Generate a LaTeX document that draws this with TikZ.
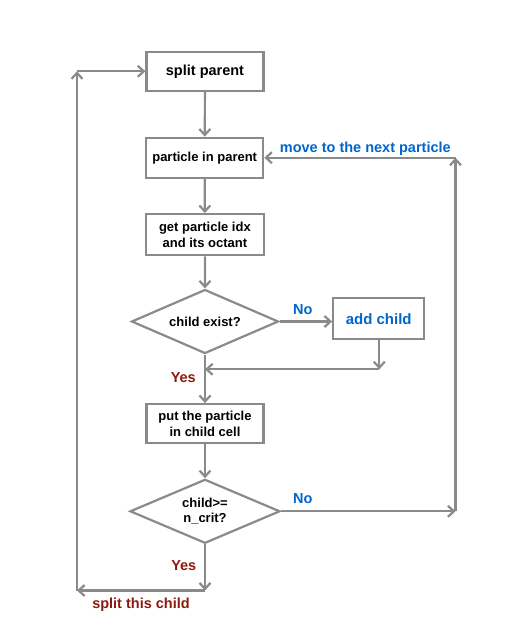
\documentclass[tikz,border=0pt]{standalone}
\usepackage{fontspec}
\setmainfont{Liberation Sans}
\usetikzlibrary{shapes.geometric,arrows.meta}
\definecolor{lngray}{RGB}{137,138,141}
\definecolor{lblue}{RGB}{0,102,204}
\definecolor{lred}{RGB}{139,26,16}
\begin{document}
\begin{tikzpicture}[x=1pt,y=-1pt,
  every node/.style={font=\bfseries},
  boxnode/.style={draw=lngray,line width=2.2pt,rectangle,minimum width=117pt,minimum height=39pt,inner sep=0pt,align=center,font=\fontsize{13}{16.5}\selectfont\bfseries},
  dianode/.style={draw=lngray,line width=2.2pt,diamond,aspect=2.3,inner sep=0pt,align=center,font=\fontsize{13}{15.5}\selectfont\bfseries},
  conn/.style={draw=lngray,line width=2.2pt,-{Straight Barb[length=6pt,width=11pt]}},
  bluelbl/.style={text=lblue,font=\fontsize{14.5}{17}\selectfont\bfseries},
  redlbl/.style={text=lred,font=\fontsize{14.5}{17}\selectfont\bfseries}]
\useasboundingbox (0,0) rectangle (525,644);
\node[boxnode,font=\fontsize{14.5}{17}\selectfont\bfseries] (sp) at (205,71.3) {split parent};
\node[boxnode,minimum height=40pt] (pip) at (204.7,157.7) {particle in parent};
\node[boxnode,minimum width=118pt,minimum height=41pt] (gpi) at (204.9,234.7) {get particle idx\\and its octant};
\node[dianode,minimum width=147pt,minimum height=64pt] (ce) at (205,321.5) {child exist?};
\node[boxnode,minimum width=91pt,minimum height=41pt,text=lblue,font=\fontsize{15}{17}\selectfont\bfseries] (ac) at (378.7,318.8) {add child};
\node[boxnode] (pp) at (205,423.7) {put the particle\\in child cell};
\node[dianode,minimum width=150pt,minimum height=64pt] (cn) at (205,511.3) {child>=\\n\_crit?};

\coordinate (addj) at (379.3,369.3);
\coordinate (cr) at (455.5,511.3);
\coordinate (tr) at (455.5,157.7);
\coordinate (bl) at (205,590.5);
\coordinate (bll) at (77,590.5);
\coordinate (tl) at (77,71.3);

\draw[conn] (sp) -- (pip);
\draw[conn] (pip) -- (gpi);
\draw[conn] (gpi) -- (ce);
\draw[conn] (ce.east) -- (ce.east -| ac.west);
\draw[conn] (ac.south -| addj) -- (addj);
\draw[conn] (addj) -- (addj -| ce.south);
\draw[conn] (ce.south) -- (pp.north);
\draw[conn] (pp) -- (cn);
\draw[conn] (cn.east) -- (cr);
\draw[conn] (cr) -- (tr);
\draw[conn] (tr) -- (pip.east);
\draw[conn] (cn.south) -- (bl);
\draw[conn] (bl) -- (bll);
\draw[conn] (bll) -- (tl);
\draw[conn] (tl) -- (sp.west);

\node[bluelbl] (no1) at (302.8,310) {No};
\node[redlbl] (yes1) at (183.3,377.7) {Yes};
\node[bluelbl] (no2) at (302.8,499) {No};
\node[redlbl] (yes2) at (183.8,565.7) {Yes};
\node[redlbl] (stc) at (141,605) {split this child};
\node[bluelbl] (mtn) at (365.3,148.3) {move to the next particle};
\end{tikzpicture}
\end{document}
